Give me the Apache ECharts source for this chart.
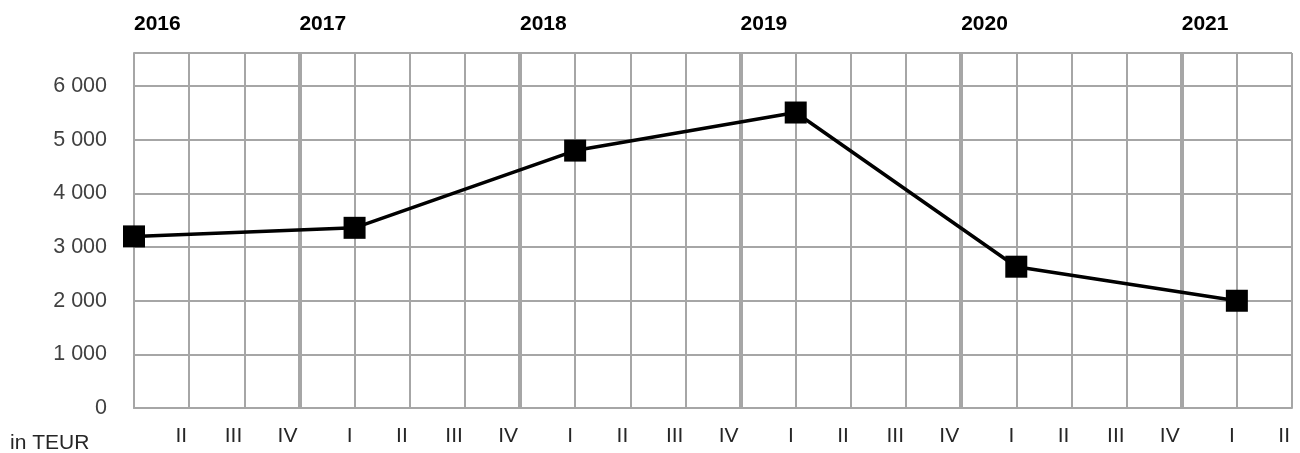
<!DOCTYPE html>
<html>
<head>
<meta charset="utf-8">
<script src="https://cdn.jsdelivr.net/npm/echarts@6/dist/echarts.min.js"></script>
<style>
  html, body { margin: 0; padding: 0; background: #fff; }
  #chart { width: 1300px; height: 453px; }
</style>
</head>
<body>
<div id="chart"></div>
<script>
// 季度分类：2016 I 至 2021 II
const quarters = [
  'I', 'II', 'III', 'IV',
  'I', 'II', 'III', 'IV',
  'I', 'II', 'III', 'IV',
  'I', 'II', 'III', 'IV',
  'I', 'II', 'III', 'IV',
  'I', 'II'
];
// 顶部年份标签（左对齐于粗分隔线）
const yearLabels = [
  '2016', '', '', '2017',
  '', '', '', '2018',
  '', '', '', '2019',
  '', '', '', '2020',
  '', '', '', '2021',
  '', ''
];
// 粗分隔线所在的分类索引
const yearDividers = [3, 7, 11, 15, 19];
// 数值（TEUR），仅每年第一季度有值
const values = [
  3200, null, null, null,
  3360, null, null, null,
  4800, null, null, null,
  5510, null, null, null,
  2635, null, null, null,
  2000, null
];
const yTicks = { min: 0, max: 6620, interval: 1000 };

const FONT = 'Liberation Sans, Arial, sans-serif';
const GRID_COLOR = '#a6a6a6';

const chart = echarts.init(document.getElementById('chart'), null, { renderer: 'canvas' });

const option = {
  backgroundColor: '#fff',
  animation: false,
  grid: { left: 134, right: 8, top: 53, bottom: 45, containLabel: false },
  xAxis: [
    {
      type: 'category',
      data: quarters,
      boundaryGap: false,
      axisLine: { show: true, lineStyle: { color: GRID_COLOR, width: 2 } },
      axisTick: { show: false },
      splitLine: { show: true, interval: 0, lineStyle: { color: GRID_COLOR, width: 2 } },
      axisLabel: {
        interval: (idx) => idx > 0,
        align: 'right',
        margin: 18,
        padding: [0, 2, 0, 0],
        fontFamily: FONT,
        fontSize: 21,
        color: '#262626'
      }
    },
    {
      type: 'category',
      position: 'top',
      data: quarters,
      boundaryGap: false,
      axisLine: { show: false },
      axisTick: { show: false },
      splitLine: {
        show: true,
        interval: (idx) => yearDividers.includes(idx),
        lineStyle: { color: GRID_COLOR, width: 4 }
      },
      axisLabel: {
        interval: 0,
        align: 'left',
        margin: 18,
        fontFamily: FONT,
        fontSize: 21,
        fontWeight: 'bold',
        color: '#000',
        formatter: (v, idx) => yearLabels[idx]
      }
    }
  ],
  yAxis: {
    type: 'value',
    min: yTicks.min,
    max: yTicks.max,
    interval: yTicks.interval,
    axisLine: { show: true, lineStyle: { color: GRID_COLOR, width: 2 } },
    axisTick: { show: false },
    splitLine: { show: true, lineStyle: { color: GRID_COLOR, width: 2 } },
    axisLabel: {
      showMaxLabel: false,
      margin: 27,
      fontFamily: FONT,
      fontSize: 21.5,
      color: '#404040',
      formatter: (v) => String(v).replace(/\B(?=(\d{3})+(?!\d))/g, ' ')
    }
  },
  graphic: [
    {
      type: 'text',
      left: 10,
      top: 433,
      style: { text: 'in TEUR', font: '21px ' + FONT, fill: '#262626' }
    }
  ],
  series: [
    {
      type: 'line',
      data: values,
      connectNulls: true,
      symbol: 'rect',
      symbolSize: 22,
      itemStyle: { color: '#000' },
      lineStyle: { color: '#000', width: 3.5 },
      z: 5
    }
  ]
};

chart.setOption(option);
</script>
</body>
</html>
